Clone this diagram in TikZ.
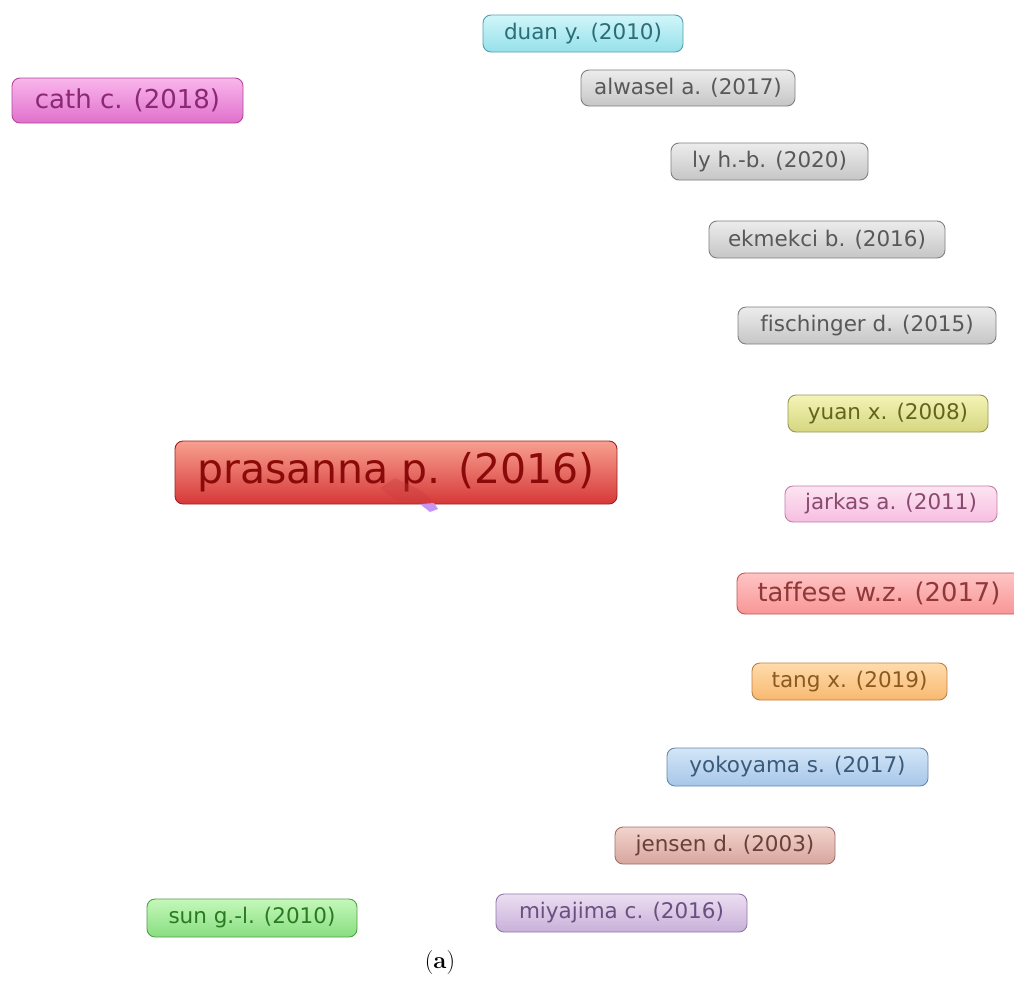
\documentclass[tikz,border=0pt]{standalone}
\usepackage{fontspec}
\newfontfamily\dv[Ligatures={NoCommon}]{DejaVu Sans}
\definecolor{blobred}{RGB}{200,60,60}
\definecolor{blobviolet}{RGB}{196,150,245}
\begin{document}
\begin{tikzpicture}[x=1pt,y=-1pt,
  paper/.style={rounded corners=8pt, line width=0.9pt, inner sep=0pt,
    font=\dv\fontsize{21.5}{25}\selectfont},
  big/.style={font=\dv\fontsize{41}{48}\selectfont},
  mid/.style={font=\dv\fontsize{26}{30}\selectfont},
  cyanbox/.style={paper, top color={rgb,255:red,208;green,246;blue,250}, bottom color={rgb,255:red,150;green,224;blue,234}, draw={rgb,255:red,84;green,160;blue,172}, text={rgb,255:red,42;green,110;blue,120}},
  graybox/.style={paper, top color={rgb,255:red,236;green,236;blue,236}, bottom color={rgb,255:red,198;green,198;blue,198}, draw={rgb,255:red,128;green,128;blue,128}, text={rgb,255:red,88;green,88;blue,88}},
  magbox/.style={paper, top color={rgb,255:red,250;green,182;blue,236}, bottom color={rgb,255:red,224;green,112;blue,204}, draw={rgb,255:red,176;green,72;blue,154}, text={rgb,255:red,138;green,40;blue,118}},
  yelbox/.style={paper, top color={rgb,255:red,244;green,244;blue,182}, bottom color={rgb,255:red,214;green,214;blue,128}, draw={rgb,255:red,150;green,150;blue,90}, text={rgb,255:red,100;green,100;blue,30}},
  redbox/.style={paper, top color={rgb,255:red,248;green,160;blue,144}, bottom color={rgb,255:red,214;green,56;blue,56}, draw={rgb,255:red,160;green,32;blue,32}, text={rgb,255:red,138;green,10;blue,10}},
  pinkbox/.style={paper, top color={rgb,255:red,253;green,228;blue,242}, bottom color={rgb,255:red,246;green,190;blue,224}, draw={rgb,255:red,192;green,128;blue,168}, text={rgb,255:red,138;green,74;blue,112}},
  salmonbox/.style={paper, top color={rgb,255:red,255;green,196;blue,196}, bottom color={rgb,255:red,248;green,150;blue,150}, draw={rgb,255:red,192;green,88;blue,88}, text={rgb,255:red,144;green,56;blue,56}},
  orangebox/.style={paper, top color={rgb,255:red,255;green,220;blue,172}, bottom color={rgb,255:red,248;green,184;blue,112}, draw={rgb,255:red,192;green,128;blue,64}, text={rgb,255:red,138;green,90;blue,32}},
  bluebox/.style={paper, top color={rgb,255:red,212;green,230;blue,248}, bottom color={rgb,255:red,166;green,198;blue,232}, draw={rgb,255:red,104;green,136;blue,168}, text={rgb,255:red,58;green,90;blue,122}},
  brownbox/.style={paper, top color={rgb,255:red,242;green,212;blue,204}, bottom color={rgb,255:red,214;green,166;blue,158}, draw={rgb,255:red,160;green,112;blue,104}, text={rgb,255:red,106;green,64;blue,56}},
  greenbox/.style={paper, top color={rgb,255:red,196;green,248;blue,186}, bottom color={rgb,255:red,136;green,222;blue,128}, draw={rgb,255:red,80;green,160;blue,72}, text={rgb,255:red,42;green,122;blue,34}},
  lavbox/.style={paper, top color={rgb,255:red,236;green,222;blue,242}, bottom color={rgb,255:red,200;green,176;blue,216}, draw={rgb,255:red,144;green,120;blue,168}, text={rgb,255:red,106;green,80;blue,128}}
]
\useasboundingbox[fill=white] (0,0) rectangle (1014,980);

\node[cyanbox, minimum width=200pt, minimum height=37pt] (duan) at (583,33.5) {duan y. (2010)};
\node[graybox, minimum width=214pt, minimum height=36pt] (alwasel) at (688,88) {alwasel a. (2017)};
\node[magbox, mid, minimum width=231pt, minimum height=45pt] (cath) at (127.5,100.5) {cath c. (2018)};
\node[graybox, minimum width=197pt, minimum height=37pt] (ly) at (769.5,161.5) {ly h.-b. (2020)};
\node[graybox, minimum width=236pt, minimum height=37pt] (ekmekci) at (827,239.5) {ekmekci b. (2016)};
\node[graybox, minimum width=258pt, minimum height=37pt] (fischinger) at (867,325.5) {fischinger d. (2015)};
\node[yelbox, minimum width=200pt, minimum height=37pt] (yuan) at (888,413.5) {yuan x. (2008)};
\node[redbox, big, minimum width=442pt, minimum height=63pt] (prasanna) at (396,472.5) {prasanna p. (2016)};
\node[pinkbox, minimum width=212pt, minimum height=36pt] (jarkas) at (891,504) {jarkas a. (2011)};
\node[salmonbox, font=\dv\fontsize{25.8}{30}\selectfont, minimum width=288pt, minimum height=41pt] (taffese) at (881,593.5) {taffese w.z. (2017)\hspace*{4pt}};
\node[orangebox, minimum width=195pt, minimum height=37pt] (tang) at (849.5,681.5) {tang x. (2019)};
\node[bluebox, minimum width=261pt, minimum height=38pt] (yokoyama) at (797.5,767) {yokoyama s. (2017)};
\node[brownbox, minimum width=220pt, minimum height=37pt] (jensen) at (725,845.5) {jensen d. (2003)};
\node[greenbox, minimum width=210pt, minimum height=38pt] (sun) at (252,918) {sun g.-l. (2010)};
\node[lavbox, minimum width=251pt, minimum height=38pt] (miyajima) at (621.5,913) {miyajima c. (2016)};

% small remnants near the central node
\fill[blobred, opacity=0.35] (380,488) -- (395,478) -- (420,490) -- (432,500) -- (420,503) -- (395,500) -- cycle;
\fill[blobviolet] (420,504) -- (434,503) -- (438,509) -- (430,512) -- cycle;

\node[font=\fontsize{24}{28}\selectfont] (cap) at (440,962) {(\textbf{a})};
\end{tikzpicture}
\end{document}
